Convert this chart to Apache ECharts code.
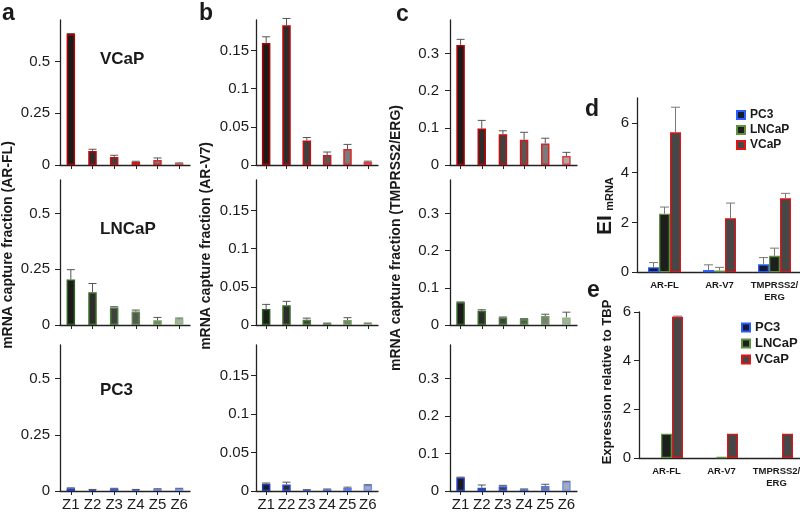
<!DOCTYPE html>
<html><head><meta charset="utf-8">
<script src="https://cdn.jsdelivr.net/npm/echarts@6/dist/echarts.min.js"></script>
<style>html,body{margin:0;padding:0;background:#fff}#c{width:800px;height:517px}</style>
</head><body><div id="c"></div>
<script>
// ---------- DATA ----------
const zones = ['Z1','Z2','Z3','Z4','Z5','Z6'];
const cellLines = ['VCaP','LNCaP','PC3'];
const targets = ['AR-FL','AR-V7','TMPRSS2/ERG'];

// panel a (AR-FL)
const arflVCaP     = [0.632, 0.068, 0.039, 0.015, 0.024, 0.008];
const arflVCaPErr  = [0.003, 0.008, 0.008, 0.003, 0.010, 0.002];
const arflLNCaP    = [0.204, 0.147, 0.079, 0.061, 0.021, 0.028];
const arflLNCaPErr = [0.044, 0.039, 0.003, 0.006, 0.013, 0.003];
const arflPC3      = [0.012, 0.006, 0.010, 0.006, 0.008, 0.010];
const arflPC3Err   = [0.002, 0.001, 0.002, 0.001, 0.002, 0.002];
// panel b (AR-V7)
const arv7VCaP     = [0.160, 0.183, 0.032, 0.013, 0.021, 0.004];
const arv7VCaPErr  = [0.008, 0.009, 0.004, 0.004, 0.006, 0.001];
const arv7LNCaP    = [0.021, 0.026, 0.007, 0.002, 0.0066, 0.002];
const arv7LNCaPErr = [0.006, 0.005, 0.002, 0.0005, 0.003, 0.0005];
const arv7PC3      = [0.0094, 0.0085, 0.0013, 0.002, 0.004, 0.0077];
const arv7PC3Err   = [0.001, 0.003, 0.0004, 0.0006, 0.001, 0.0005];
// panel c (TMPRSS2/ERG)
const tmpVCaP      = [0.323, 0.098, 0.083, 0.068, 0.058, 0.024];
const tmpVCaPErr   = [0.015, 0.022, 0.009, 0.020, 0.014, 0.010];
const tmpLNCaP     = [0.061, 0.038, 0.0205, 0.016, 0.024, 0.0205];
const tmpLNCaPErr  = [0.001, 0.003, 0.001, 0.001, 0.005, 0.014];
const tmpPC3       = [0.036, 0.009, 0.0126, 0.0045, 0.0135, 0.025];
const tmpPC3Err    = [0.001, 0.007, 0.0025, 0.001, 0.0045, 0.001];

// panel d (EI mRNA)
const eiPC3      = [0.20, 0.09, 0.32];
const eiPC3Err   = [0.19, 0.21, 0.27];
const eiLNCaP    = [2.35, 0.07, 0.66];
const eiLNCaPErr = [0.27, 0.13, 0.31];
const eiVCaP     = [5.62, 2.17, 2.97];
const eiVCaPErr  = [1.01, 0.61, 0.20];
// panel e (expression relative to TBP)
const tbpPC3      = [0, 0, 0];
const tbpLNCaP    = [1.0, 0.04, 0];
const tbpVCaP     = [5.8, 1.0, 1.0];
const tbpVCaPErr  = [0.03, 0, 0];

// tick labels
const ticksA = [0, 0.25, 0.5];
const ticksB = [0, 0.05, 0.1, 0.15];
const ticksC = [0, 0.1, 0.2, 0.3];
const ticksDE = [0, 2, 4, 6];

// ---------- STYLE ----------
const FONT = '"Liberation Sans", Arial, sans-serif';
const TXT = '#1a1a1a';
const fills = ['#1b1b1b','#2c2c2c','#404040','#575757','#7b7b7b','#ababab'];
const borders = {
  VCaP:  ['#b30000','#bd0505','#c80f0f','#d01818','#d82828','#e23c3c'],
  LNCaP: ['#2f5f1f','#3d6e2a','#4c7d38','#5c8c48','#70a05c','#8cb878'],
  PC3:   ['#1f3fc8','#2a4cd2','#3658dc','#4466e2','#5878ea','#7092f2']
};
const groupStyle = {
  PC3:   {color:'#141b30', borderColor:'#2a5cff'},
  LNCaP: {color:'#1e1e1e', borderColor:'#5e9040'},
  VCaP:  {color:'#474747', borderColor:'#e01515'}
};

const smallData = [
  [[arflVCaP,arflVCaPErr],[arv7VCaP,arv7VCaPErr],[tmpVCaP,tmpVCaPErr]],
  [[arflLNCaP,arflLNCaPErr],[arv7LNCaP,arv7LNCaPErr],[tmpLNCaP,tmpLNCaPErr]],
  [[arflPC3,arflPC3Err],[arv7PC3,arv7PC3Err],[tmpPC3,tmpPC3Err]]
];
const colTicks = [ticksA, ticksB, ticksC];
const colLeft = [60, 256, 450];
const colWidth = [130, 122, 127];
const colMargin = [10, 7, 11];
const rowTop = [20, 180, 345];
const rowH = [145, 145, 146];
const yMax = [[0.7,0.65,0.65],[0.19,0.19,0.19],[0.39,0.39,0.39]];

function errRender(offset, cap, color){
  return function(params, api){
    const x = api.value(0), v = api.value(1), e = api.value(2);
    if (!e) return;
    const p0 = api.coord([x, v]);
    const p1 = api.coord([x, v + e]);
    const cx = p0[0] + offset;
    return {type:'group', children:[
      {type:'line', shape:{x1:cx,y1:p0[1],x2:cx,y2:p1[1]}, style:{stroke:color,lineWidth:1}},
      {type:'line', shape:{x1:cx-cap/2,y1:p1[1],x2:cx+cap/2,y2:p1[1]}, style:{stroke:color,lineWidth:1}}
    ]};
  };
}

const option = {animation:false, textStyle:{fontFamily:FONT}, grid:[], xAxis:[], yAxis:[], series:[], legend:[], graphic:[]};

let gi = 0;
for (let r = 0; r < 3; r++){
  for (let c = 0; c < 3; c++){
    option.grid.push({left:colLeft[c], top:rowTop[r], width:colWidth[c], height:rowH[r], containLabel:false, outerBoundsMode:'none'});
    option.xAxis.push({
      type:'category', gridIndex:gi, data:zones, boundaryGap:true,
      axisLine:{lineStyle:{color:'#222', width:1.3}},
      axisTick:{show:true, alignWithLabel:true, length:4, lineStyle:{color:'#222'}},
      axisLabel:{show:r===2, color:TXT, fontSize:15, fontFamily:FONT, margin:6, interval:0}
    });
    option.yAxis.push({
      type:'value', gridIndex:gi, min:0, max:yMax[c][r],
      splitLine:{show:false},
      axisLine:{show:true, lineStyle:{color:'#222', width:1.3}},
      axisTick:{show:true, length:5, customValues:colTicks[c], lineStyle:{color:'#222'}},
      axisLabel:{customValues:colTicks[c], color:TXT, fontSize:15, fontFamily:FONT, margin:colMargin[c]}
    });
    const cl = cellLines[r];
    const vals = smallData[r][c][0], errs = smallData[r][c][1];
    option.series.push({
      type:'bar', name:'s'+gi, xAxisIndex:gi, yAxisIndex:gi, barWidth:8.5,
      data: vals.map((v,i)=>({value:v, itemStyle:{color:fills[i], borderColor:borders[cl][i], borderWidth:1.5}}))
    });
    option.series.push({
      type:'custom', name:'e'+gi, xAxisIndex:gi, yAxisIndex:gi, z:5,
      renderItem: errRender(0, 8, '#555'),
      encode:{x:0, y:1},
      data: vals.map((v,i)=>[i, v, errs[i]])
    });
    gi++;
  }
}

// panels d and e
const deGrids = [
  {left:637, top:98, width:165, height:174.3, max:7,
   sets:[['PC3',eiPC3,eiPC3Err],['LNCaP',eiLNCaP,eiLNCaPErr],['VCaP',eiVCaP,eiVCaPErr]]},
  {left:639, top:312, width:165, height:146, max:6,
   sets:[['PC3',tbpPC3,null],['LNCaP',tbpLNCaP,null],['VCaP',tbpVCaP,tbpVCaPErr]]}
];
const BW = 11;
deGrids.forEach((g, k) => {
  option.grid.push({left:g.left, top:g.top, width:g.width, height:g.height, containLabel:false, outerBoundsMode:'none'});
  option.xAxis.push({
    type:'category', gridIndex:gi, data:targets,
    axisLine:{lineStyle:{color:'#222', width:1.3}},
    axisTick:{show:false},
    axisLabel:{color:TXT, fontSize:9.5, fontWeight:'bold', fontFamily:FONT, margin:7, lineHeight:12, interval:0,
      formatter: v => v.replace('/', '/\n')}
  });
  option.yAxis.push({
    type:'value', gridIndex:gi, min:0, max:g.max,
    splitLine:{show:false},
    axisLine:{show:true, lineStyle:{color:'#222', width:1.3}},
    axisTick:{show:true, length:5, customValues:ticksDE, lineStyle:{color:'#222'}},
    axisLabel:{customValues:ticksDE, color:TXT, fontSize:15, fontFamily:FONT, margin:8}
  });
  g.sets.forEach((s, j) => {
    option.series.push({
      type:'bar', name:s[0], xAxisIndex:gi, yAxisIndex:gi, barWidth:BW, barGap:'0%',
      itemStyle:{color:groupStyle[s[0]].color, borderColor:groupStyle[s[0]].borderColor, borderWidth:1.3},
      data:s[1].map(v => (v === 0 ? {value:v, itemStyle:{borderWidth:0, opacity:0}} : v))
    });
    if (s[2]) {
      option.series.push({
        type:'custom', name:'err'+k+j, xAxisIndex:gi, yAxisIndex:gi, z:5,
        renderItem: errRender((j-1)*BW, 9, '#777'),
        encode:{x:0, y:1},
        data: s[1].map((v,i)=>[i, v, s[2][i]])
      });
    }
  });
  gi++;
});

option.legend = [
  {data:['PC3','LNCaP','VCaP'], orient:'vertical', left:731, top:104, icon:'rect', itemWidth:8, itemHeight:8, itemGap:3,
   textStyle:{fontSize:12, fontWeight:'bold', color:TXT, fontFamily:FONT, lineHeight:12}, selectedMode:false},
  {data:['PC3','LNCaP','VCaP'], orient:'vertical', left:736, top:316, icon:'rect', itemWidth:8, itemHeight:8, itemGap:3,
   textStyle:{fontSize:13, fontWeight:'bold', color:TXT, fontFamily:FONT, lineHeight:12}, selectedMode:false}
];

function txt(text, x, y, size, opts){
  return Object.assign({type:'text', x:x, y:y, style:Object.assign({text:text, fill:TXT, font:'bold '+size+'px '+FONT,
    align:'left', verticalAlign:'middle'}, (opts&&opts.style)||{})}, (opts&&opts.el)||{});
}
option.graphic = [
  txt('a', 2, 14, 23), txt('b', 199, 14, 23), txt('c', 396, 15, 23), txt('d', 585, 110, 23), txt('e', 587, 291, 23),
  txt('VCaP', 100, 59, 17), txt('LNCaP', 100, 229, 17), txt('PC3', 100, 390, 17),
  txt('mRNA capture fraction (AR-FL)', 8, 245, 14, {style:{align:'center'}, el:{rotation:Math.PI/2}}),
  txt('mRNA capture fraction (AR-V7)', 206, 246, 14, {style:{align:'center'}, el:{rotation:Math.PI/2}}),
  txt('mRNA capture fraction (TMPRSS2/ERG)', 396, 238, 14, {style:{align:'center'}, el:{rotation:Math.PI/2}}),
  txt('EI', 605, 225, 21, {style:{align:'center'}, el:{rotation:Math.PI/2}}),
  txt('mRNA', 610, 194, 11, {style:{align:'center'}, el:{rotation:Math.PI/2}}),
  txt('Expression relative to TBP', 607, 382, 13, {style:{align:'center'}, el:{rotation:Math.PI/2}})
];

const chart = echarts.init(document.getElementById('c'), null, {renderer:'canvas'});
chart.setOption(option);
</script></body></html>
